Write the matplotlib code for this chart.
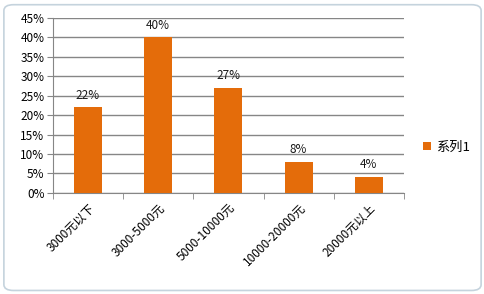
import numpy as np
import matplotlib.pyplot as plt
from matplotlib.patches import FancyBboxPatch

plt.rcParams['font.family'] = ['Noto Sans CJK SC', 'DejaVu Sans']

categories = ["3000元以下", "3000-5000元", "5000-10000元", "10000-20000元", "20000元以上"]
values = [22, 40, 27, 8, 4]  # 百分比
series_name = "系列1"
bar_color = "#E46C0A"
grid_color = "#868686"

fig = plt.figure(figsize=(4.85, 2.94), dpi=100)

# chart area border
border = FancyBboxPatch((0.008, 0.012), 0.984, 0.972, boxstyle="round,pad=0,rounding_size=0.02",
                        transform=fig.transFigure, fill=False, edgecolor="#C5D3DD", linewidth=1.2)
fig.patches.append(border)

ax = fig.add_axes([0.109, 0.344, 0.724, 0.595])
x = np.arange(len(categories))
bars = ax.bar(x, values, width=0.4, color=bar_color, zorder=3)

for xi, v in zip(x, values):
    ax.text(xi, v + 1.5, f"{v}%", ha="center", va="bottom", fontsize=8.5, color="#1a1a1a")

ax.set_xlim(-0.5, len(categories) - 0.5)
ax.set_ylim(0, 45)
ax.set_yticks(np.arange(0, 46, 5))
ax.set_yticklabels([f"{t}%" for t in range(0, 46, 5)], fontsize=8.5)
ax.yaxis.grid(True, color=grid_color, linewidth=1, zorder=0)

ax.set_xticks(x)
ax.set_xticklabels(categories, rotation=45, ha="right", rotation_mode="anchor", fontsize=8.5)
ax.tick_params(axis="x", length=0, pad=6)
ax.set_xticks(np.arange(-0.5, len(categories)), minor=True)
ax.tick_params(axis="x", which="minor", length=4, color=grid_color)
ax.tick_params(axis="y", length=4, color=grid_color, pad=2)

for side in ["top", "right"]:
    ax.spines[side].set_visible(False)
ax.spines["left"].set_color(grid_color)
ax.spines["bottom"].set_color(grid_color)

ax.legend([bars], [series_name], loc="center left", bbox_to_anchor=(1.02, 0.26),
          frameon=False, fontsize=9.5, handlelength=0.6, handleheight=0.6, handletextpad=0.4)

fig.savefig("out.png", dpi=100)
